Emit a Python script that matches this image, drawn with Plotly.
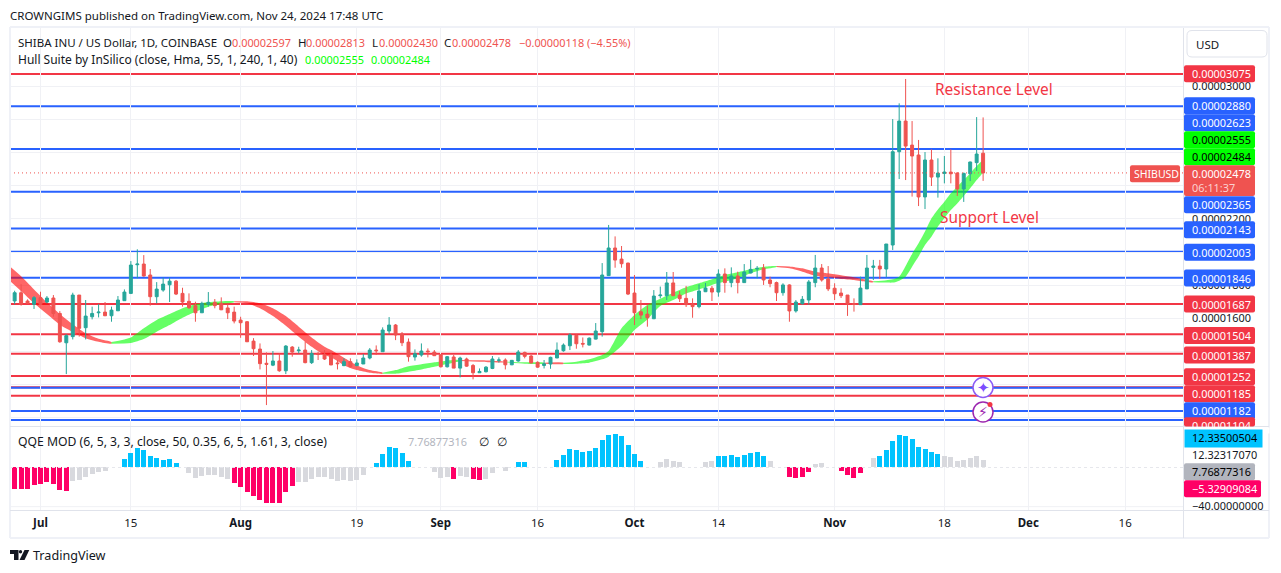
import pandas as pd
import plotly.graph_objects as go

W, H = 1281, 573
L, R, T, B = 10, 1183, 28, 510
MAIN_BOTTOM = 426
UNIT = 1e-8

# OHLC, in units of 0.00000001, from 2024-06-27 daily
candle_open = [1705, 1755, 1705, 1685, 1725, 1699, 1723, 1630, 1453, 1490, 1741, 1544, 1610, 1634, 1638, 1616, 1646, 1707, 1751, 1924,
               1928, 1862, 1731, 1771, 1803, 1825, 1751, 1703, 1677, 1634, 1685, 1697, 1691, 1663, 1638, 1590, 1580, 1463, 1415, 1329,
               1318, 1343, 1284, 1427, 1405, 1409, 1333, 1389, 1383, 1379, 1331, 1315, 1339, 1315, 1325, 1361, 1409, 1399, 1524, 1560,
               1506, 1457, 1367, 1379, 1403, 1397, 1381, 1308, 1367, 1300, 1355, 1316, 1272, 1278, 1298, 1347, 1349, 1320, 1343, 1395,
               1373, 1335, 1316, 1325, 1361, 1405, 1435, 1498, 1449, 1439, 1475, 1520, 1858, 2025, 1958, 1934, 1753, 1640, 1626, 1598,
               1737, 1737, 1814, 1741, 1721, 1687, 1671, 1761, 1782, 1759, 1868, 1816, 1856, 1816, 1874, 1898, 1904, 1832, 1816, 1755,
               1802, 1645, 1689, 1711, 1816, 1904, 1838, 1782, 1753, 1741, 1689, 1683, 1778, 1908, 1916, 1898, 2043, 2606, 2791, 2646,
               2586, 2333, 2556, 2453, 2475, 2483, 2477, 2381, 2473, 2540, 2597]
candle_high = [1767, 1807, 1715, 1735, 1761, 1735, 1741, 1644, 1504, 1755, 1741, 1711, 1671, 1687, 1699, 1671, 1735, 1775, 1946, 2017,
               1982, 1898, 1819, 1846, 1846, 1832, 1785, 1751, 1701, 1701, 1759, 1717, 1727, 1685, 1671, 1610, 1584, 1481, 1449, 1395,
               1403, 1389, 1439, 1433, 1429, 1459, 1409, 1399, 1409, 1399, 1349, 1359, 1359, 1353, 1385, 1421, 1437, 1546, 1608, 1566,
               1518, 1479, 1413, 1449, 1419, 1409, 1385, 1373, 1379, 1369, 1363, 1325, 1298, 1312, 1373, 1365, 1359, 1349, 1409, 1399,
               1379, 1341, 1349, 1369, 1455, 1449, 1510, 1504, 1485, 1485, 1572, 1934, 2164, 2095, 2037, 1936, 1862, 1711, 1677, 1771,
               1792, 1880, 1880, 1765, 1796, 1721, 1806, 1814, 1796, 1896, 1902, 1908, 1882, 1928, 1953, 1916, 1928, 1852, 1822, 1812,
               1806, 1711, 1735, 1832, 1983, 1928, 1916, 1812, 1782, 1741, 1721, 1852, 1983, 1953, 1953, 2049, 2803, 2898, 3045, 2791,
               2677, 2604, 2620, 2566, 2580, 2620, 2483, 2480, 2546, 2815, 2813]
candle_low = [1685, 1677, 1691, 1657, 1681, 1691, 1610, 1453, 1264, 1473, 1490, 1473, 1594, 1606, 1614, 1580, 1646, 1707, 1747, 1842,
              1852, 1677, 1691, 1761, 1699, 1741, 1671, 1657, 1580, 1634, 1671, 1661, 1650, 1596, 1570, 1483, 1459, 1373, 1292, 1077,
              1312, 1278, 1264, 1369, 1389, 1329, 1325, 1349, 1349, 1319, 1292, 1312, 1304, 1312, 1325, 1353, 1379, 1399, 1504, 1469,
              1433, 1339, 1345, 1369, 1365, 1373, 1304, 1304, 1300, 1244, 1308, 1232, 1272, 1274, 1294, 1333, 1292, 1318, 1339, 1359,
              1329, 1302, 1298, 1296, 1361, 1399, 1409, 1417, 1425, 1437, 1473, 1490, 1856, 1906, 1906, 1741, 1560, 1596, 1550, 1596,
              1721, 1711, 1735, 1699, 1669, 1604, 1661, 1759, 1705, 1731, 1755, 1788, 1751, 1816, 1872, 1842, 1802, 1788, 1705, 1737,
              1580, 1635, 1683, 1683, 1788, 1822, 1765, 1711, 1723, 1615, 1641, 1683, 1778, 1832, 1838, 1848, 2013, 2441, 2435, 2335,
              2278, 2260, 2399, 2329, 2415, 2415, 2339, 2303, 2429, 2490, 2430]
candle_close = [1755, 1685, 1691, 1725, 1685, 1723, 1630, 1459, 1496, 1741, 1540, 1614, 1630, 1638, 1616, 1650, 1711, 1759, 1922, 1928,
                1856, 1731, 1777, 1807, 1825, 1747, 1699, 1665, 1634, 1691, 1697, 1677, 1652, 1634, 1584, 1574, 1459, 1417, 1327, 1323,
                1343, 1284, 1433, 1397, 1409, 1333, 1389, 1383, 1355, 1319, 1327, 1339, 1308, 1331, 1361, 1409, 1405, 1530, 1560, 1500,
                1453, 1369, 1387, 1403, 1399, 1375, 1308, 1369, 1300, 1361, 1312, 1272, 1280, 1306, 1355, 1349, 1320, 1347, 1397, 1371,
                1331, 1306, 1326, 1365, 1409, 1439, 1500, 1447, 1445, 1481, 1524, 1862, 2025, 1952, 1930, 1747, 1634, 1620, 1604, 1735,
                1741, 1814, 1737, 1719, 1683, 1671, 1765, 1784, 1759, 1868, 1816, 1856, 1816, 1880, 1896, 1902, 1832, 1810, 1755, 1802,
                1645, 1699, 1715, 1820, 1904, 1832, 1778, 1749, 1737, 1687, 1685, 1783, 1904, 1916, 1898, 2049, 2606, 2791, 2640, 2580,
                2333, 2556, 2453, 2477, 2483, 2473, 2381, 2475, 2544, 2592, 2478]

# Hull band edges, day offsets from 2024-07-01
hull_days = [-5, -3, -1, 1, 3, 5, 7, 9, 11, 14, 16, 18, 20, 22, 24, 26, 28, 30, 32, 34, 36, 38, 40, 42, 44, 45, 47, 49, 51, 53,
             55, 57, 59, 61, 63, 65, 68, 70, 72, 75, 78, 81, 83, 85, 87, 88, 90, 92, 94, 96, 98, 100, 102, 104, 106, 108, 110, 112, 114,
             116, 118, 120, 122, 124, 126, 128, 129, 131, 132, 133, 134, 135, 136, 137, 138, 139, 140, 141, 142, 143, 144, 145, 146]
hull_upper = [1922, 1854, 1775, 1697, 1626, 1564, 1510, 1477, 1457, 1485, 1540, 1590, 1626, 1661, 1685, 1697, 1703, 1703,
              1703, 1691, 1661, 1614, 1550, 1485, 1429, 1409, 1363, 1318, 1288, 1272, 1288, 1312, 1324, 1335, 1345, 1349,
              1347, 1345, 1339, 1335, 1333, 1333, 1339, 1353, 1379, 1403, 1540, 1620, 1681, 1719, 1755, 1788, 1812, 1836, 1862, 1878, 1896, 1912, 1916,
              1914, 1902, 1882, 1872, 1860, 1848, 1832, 1824, 1830, 1836, 1852, 1916, 1989, 2053, 2124, 2204, 2258, 2304, 2355, 2395, 2435, 2476, 2520, 2555]
hull_lower = [1836, 1765, 1691, 1626, 1562, 1518, 1481, 1459, 1447, 1451, 1475, 1520, 1560, 1604, 1640, 1671, 1687, 1697,
              1691, 1661, 1614, 1556, 1490, 1429, 1379, 1365, 1318, 1288, 1272, 1266, 1266, 1278, 1292, 1308, 1325, 1343,
              1339, 1335, 1335, 1327, 1327, 1325, 1327, 1333, 1353, 1369, 1433, 1530, 1594, 1675, 1711, 1751, 1775, 1802, 1822, 1842, 1872, 1896, 1910,
              1902, 1882, 1858, 1850, 1838, 1832, 1820, 1818, 1816, 1816, 1828, 1852, 1912, 1973, 2043, 2093, 2154, 2204, 2254, 2294, 2339, 2385, 2435, 2484]
hull_flips = [-5, 11, 30, 53, 65, 72, 78, 81, 114, 129, 146]

# QQE histogram from 2024-06-26
qqe_values = [-26, -21.8, -21.8, -21.8, -18, -16.7, -15, -16.7, -23, -24,
              -13.3, -13, -9.9, -6.8, -5, -3.7, 0, 0,
              8.2, 15, 19.7, 17.7, 11.6, 9.2, 7.8, 8.8, 4.8,
              0, -5.4, -10.9, -8.5, -7.8, -7.8, -9.9, -11.9,
              -16, -19.7, -25.2, -29.3, -33, -36.4, -36.4, -36.4, -25.2, -19,
              -15, -14.6, -12.2, -9.9, -9.9, -11.9, -13.3, -12.6, -13.9, -12.9, -7.8, 0,
              4.4, 13.6, 20.7, 19.7, 14.6, 6.5,
              0, 0, 0, -4.4, -10.5, -10.2,
              -11.9, -8.8, -9.5, -11.6, -12.9,
              -11.9, -5.4, 0, -3.7, 0,
              5.4, 5.4, 0, 0, 0, 0,
              7.5, 12.6, 18.7, 17.7, 15.6, 16.7, 19.7, 27.9, 33, 34, 32, 22.8, 13.6, 6.5,
              0, 0, 5.4, 8.5, 6.5, 5.4, 0, 0, 0, 5.4, 6.5,
              11.6, 11.6, 12.6, 10.5, 12.6, 14.6, 15.6, 11.6,
              6.5, 0, 0,
              -9.9, -10.9, -9.9, -4.8,
              3.4, 4.4, 0, 0,
              -3.7, -7.8, -10.9, -5.8,
              0, 9.5,
              11.6, 17.7, 26.9, 33, 32, 28.9, 20.7, 18.7, 15.6, 13.6,
              11.6, 10.5, 6.5, 7.5, 9.5, 11.6, 7.77]
qqe_states = ("R" * 10 + "G" * 8 + "B" * 9 + "G" * 8 + "R" * 10 + "G" * 12 + "B" * 6 + "G" * 6 + "R" + "GG" + "RR" + "G" * 5
              + "BB" + "G" * 4 + "B" * 14 + "G" * 11 + "B" * 8 + "G" * 3 + "R" * 4 + "G" * 4 + "R" * 4 + "GG" + "B" * 10 + "G" * 7)

red_levels = [3075, 1687, 1504, 1387, 1252, 1185, 1133]
blue_levels = [2880, 2623, 2365, 2143, 2003, 1846, 1182, 1041, 987]
price_ticks = [3000, 2800, 2600, 2400, 2200, 2000, 1800, 1600, 1400, 1200, 1000]
# ticks the coloured price tags hide completely get no label
price_tick_names = ["0.00003000", "", "", "", "0.00002200", "", "0.00001800", "0.00001600", "", "", ""]

tick_dates = ["2024-07-01", "2024-07-15", "2024-08-01", "2024-08-19", "2024-09-01", "2024-09-16",
              "2024-10-01", "2024-10-14", "2024-11-01", "2024-11-18", "2024-12-01", "2024-12-16"]
tick_names = ["<b>Jul</b>", "15", "<b>Aug</b>", "19", "<b>Sep</b>", "16", "<b>Oct</b>", "14", "<b>Nov</b>", "18", "<b>Dec</b>", "16"]

RED = "#f23645"
BLUE = "#2962ff"
UP = "#26a69a"
DOWN = "#ef5350"
GRID = "#f0f1f5"
AXIS = "#e0e3eb"
INK = "#131722"
FONT = "Noto Sans"
NUM = 10.9


def px(x):
    return (x - L) / (R - L)


def py(y):
    return 1 - (y - T) / (B - T)


def rbox(x0, y0, x1, y1, fill, r=2):
    a, b, c, d = px(x0), py(y0), px(x1), py(y1)
    rx, ry = r / (R - L), r / (B - T)
    path = (f"M{a + rx},{b} L{c - rx},{b} Q{c},{b} {c},{b - ry} L{c},{d + ry} Q{c},{d} {c - rx},{d} "
            f"L{a + rx},{d} Q{a},{d} {a},{d + ry} L{a},{b - ry} Q{a},{b} {a + rx},{b} Z")
    return dict(type="path", path=path, xref="paper", yref="paper", fillcolor=fill, line_width=0, layer="above")


def poly(points, fill):
    path = "M" + " L".join(f"{px(x)},{py(y)}" for x, y in points) + " Z"
    return dict(type="path", path=path, xref="paper", yref="paper", fillcolor=fill, line_width=0, layer="above")


def text(x, y, s, color=INK, size=11.5, anchor="left", family=FONT):
    return dict(x=px(x), y=py(y), xref="paper", yref="paper", text=s, showarrow=False, xanchor=anchor, yanchor="middle",
                font=dict(family=family, size=size, color=color), borderpad=0, borderwidth=0)


def patch(x, y, w, h, fill):
    # an empty annotation used as a filled rectangle above earlier annotations
    return dict(x=px(x), y=py(y), xref="paper", yref="paper", text="", showarrow=False, xanchor="left", yanchor="top",
                width=w, height=h, bgcolor=fill, borderpad=0)


dates = pd.date_range("2024-06-27", periods=len(candle_open))
fig = go.Figure()

# hull band, one polygon per trend run
base = pd.Timestamp("2024-07-01")
for i in range(len(hull_flips) - 1):
    idx = [k for k, d in enumerate(hull_days) if hull_flips[i] <= d <= hull_flips[i + 1]]
    xs = [base + pd.Timedelta(days=hull_days[k]) for k in idx]
    up = [hull_upper[k] * UNIT for k in idx]
    lo = [hull_lower[k] * UNIT for k in idx]
    color = "rgba(255,0,0,0.6)" if i in (0, 2, 4, 6, 8) else "rgba(0,255,0,0.6)"
    fig.add_trace(go.Scatter(x=xs + xs[::-1], y=up + lo[::-1], fill="toself", fillcolor=color, mode="none",
                             line=dict(shape="spline", smoothing=0.6),
                             hoverinfo="skip", showlegend=False, xaxis="x", yaxis="y"))

fig.add_trace(go.Candlestick(
    x=dates,
    open=[v * UNIT for v in candle_open],
    high=[v * UNIT for v in candle_high],
    low=[v * UNIT for v in candle_low],
    close=[v * UNIT for v in candle_close],
    increasing=dict(line=dict(color=UP, width=1), fillcolor=UP),
    decreasing=dict(line=dict(color=DOWN, width=1), fillcolor=DOWN),
    whiskerwidth=0, showlegend=False, hoverinfo="skip", xaxis="x", yaxis="y2",
))

qqe_dates = pd.date_range("2024-06-26", periods=len(qqe_values))
state_colors = {"R": "#ff0066", "G": "#d8d9de", "B": "#00c3ff"}
fig.add_trace(go.Bar(x=qqe_dates, y=qqe_values, marker=dict(color=[state_colors[s] for s in qqe_states], line_width=0),
                     width=5 / 6.456 * 86400000, showlegend=False, hoverinfo="skip", xaxis="x2", yaxis="y3"))

shapes = []
for level in red_levels:
    shapes.append(dict(type="line", xref="x domain", yref="y", x0=0, x1=1, y0=level * UNIT, y1=level * UNIT,
                       line=dict(color=RED, width=2), layer="below"))
for level in blue_levels:
    shapes.append(dict(type="line", xref="x domain", yref="y", x0=0, x1=1, y0=level * UNIT, y1=level * UNIT,
                       line=dict(color=BLUE, width=2), layer="below"))
shapes.append(dict(type="line", xref="x domain", yref="y", x0=0, x1=1, y0=candle_close[-1] * UNIT, y1=candle_close[-1] * UNIT,
                   line=dict(color=DOWN, width=1, dash="1px,3px"), layer="above"))
shapes.append(dict(type="line", xref="x2 domain", yref="y3", x0=0, x1=1, y0=0, y1=0,
                   line=dict(color="#e6e7ec", width=1, dash="dot"), layer="above"))
shapes.append(dict(type="line", xref="x2 domain", yref="y3", x0=0, x1=1, y0=-40, y1=-40,
                   line=dict(color=GRID, width=1), layer="below"))

# chart frame and pane dividers
frame = "#eff1f7"
for x0, y0, x1, y1, col, w in [(10, 27, 1269, 27, frame, 2), (10, 27, 10, 538, frame, 2), (1269, 27, 1269, 538, frame, 2),
                               (10, 538, 1269, 538, frame, 2), (10, 426.5, 1269, 426.5, AXIS, 1), (10, 510.5, 1269, 510.5, AXIS, 1),
                               (1183.5, 28, 1183.5, 538, AXIS, 1)]:
    shapes.append(dict(type="line", xref="paper", yref="paper", x0=px(x0), x1=px(x1), y0=py(y0), y1=py(y1),
                       line=dict(color=col, width=w), layer="above"))

# USD button
a, b, c, d = px(1187), py(30.5), px(1267), py(57)
rx, ry = 5 / (R - L), 5 / (B - T)
shapes.append(dict(type="path", xref="paper", yref="paper", layer="above", line=dict(color=AXIS, width=1), fillcolor="white",
                   path=f"M{a + rx},{b} L{c - rx},{b} Q{c},{b} {c},{b - ry} L{c},{d + ry} Q{c},{d} {c - rx},{d} "
                        f"L{a + rx},{d} Q{a},{d} {a},{d + ry} L{a},{b - ry} Q{a},{b} {a + rx},{b} Z"))

# price labels: (centre y, text, box colour, text colour)
price_labels = [
    (73.7, "0.00003075", RED, "white"), (105.7, "0.00002880", BLUE, "white"), (122.7, "0.00002623", BLUE, "white"),
    (139.7, "0.00002555", "#00ff00", "black"), (156.7, "0.00002484", "#00ff00", "black"),
    (173.7, "0.00002478", DOWN, "white"), (204.7, "0.00002365", BLUE, "white"), (229.7, "0.00002143", BLUE, "white"),
    (252.3, "0.00002003", BLUE, "white"), (278, "0.00001846", BLUE, "white"), (304, "0.00001687", RED, "white"),
    (335.5, "0.00001504", RED, "white"), (355, "0.00001387", RED, "white"), (376.7, "0.00001252", RED, "white"),
    (393.7, "0.00001185", RED, "white"), (410.7, "0.00001182", BLUE, "white"),
]
annotations = []
for y, label, fill, ink in price_labels:
    shapes.append(rbox(1184, y - 8.5, 1255, y + 8.5, fill))
    annotations.append(text(1192, y, label, ink, NUM))
shapes.append(rbox(1184, 173.7, 1255, 196, DOWN))
annotations.append(text(1192, 187.7, "06:11:37", "#fbd0cf", NUM))
shapes.append(rbox(1184, 417.2, 1255, 426.5, RED))
annotations.append(text(1192, 425.7, "0.00001104", "white", NUM))
annotations.append(patch(1184, 426.7, 84, 5, "white"))

# QQE labels
annotations.append(patch(1184, 429.2, 77, 17, "#00c3ff"))
annotations.append(text(1192, 437.7, "12.33500504", "black", NUM))
shapes.append(rbox(1184, 463.2, 1255, 480.2, "#b2b5be"))
annotations.append(text(1192, 471.7, "7.76877316", "black", NUM))
shapes.append(rbox(1184, 480.2, 1261, 497.2, "#ff0066"))
annotations.append(text(1192, 488.7, "\u22125.32909084", "white", NUM))

# legend rows and labels
annotations += [
    text(10, 15, "CROWNGIMS published on TradingView.com, Nov 24, 2024 17:48 UTC"),
    text(18, 42, "SHIBA INU / US Dollar, 1D, COINBASE"),
    text(223, 42, "O"), text(232, 42, "0.00002597", DOWN, NUM),
    text(298, 42, "H"), text(306, 42, "0.00002813", DOWN, NUM),
    text(372, 42, "L"), text(379, 42, "0.00002430", DOWN, NUM),
    text(444, 42, "C"), text(452, 42, "0.00002478", DOWN, NUM),
    text(519, 42, "\u22120.00000118 (\u22124.55%)", DOWN, NUM),
    text(18, 59, "Hull Suite by InSilico (close, Hma, 55, 1, 240, 1, 40)", INK, 12),
    text(305, 59, "0.00002555", "#00ff00", NUM), text(371, 59, "0.00002484", "#00ff00", NUM),
    text(18, 441, "QQE MOD (6, 5, 3, 3, close, 50, 0.35, 6, 5, 1.61, 3, close)", INK, 12.2),
    text(408, 441, "7.76877316", "#b2b5be", NUM), text(479, 441, "\u2205"), text(497, 441, "\u2205"),
    text(935, 89, "Resistance Level", RED, 15.4),
    text(940, 218, "Support Level", RED, 15.4),
    text(1196, 44, "USD", INK, 11.5),
    text(33, 555, "TradingView", INK, 12.6),
]

# SHIBUSD tag
shapes.append(rbox(1130, 165.2, 1180, 182.2, DOWN))
annotations.append(text(1134, 173.7, "SHIBUSD", "white", 10.5))

# round badges beside the price scale
for cy, col in [(387.5, "#8b5cf6"), (412, "#9c27b0")]:
    shapes.append(dict(type="circle", xref="paper", yref="paper", x0=px(973), x1=px(993), y0=py(cy - 10), y1=py(cy + 10),
                       fillcolor="white", line=dict(color=col, width=1.5), layer="above"))
shapes.append(dict(type="circle", xref="paper", yref="paper", x0=px(987.5), x1=px(992.5), y0=py(402), y1=py(407),
                   fillcolor=RED, line_width=0, layer="above"))
annotations.append(text(983, 387.5, "\u2726", "#7c4dff", 15, "center", "DejaVu Sans"))
annotations.append(text(983, 412, "\u26a1", "#9c27b0", 14, "center", "DejaVu Sans"))

# TradingView mark
shapes.append(poly([(10, 550), (18.5, 550), (18.5, 560), (14, 560), (14, 554), (10, 554)], "#131722"))
shapes.append(dict(type="circle", xref="paper", yref="paper", x0=px(18.8), x1=px(22.2), y0=py(550), y1=py(553.4),
                   fillcolor="#131722", line_width=0, layer="above"))
shapes.append(poly([(24.5, 550), (29.3, 550), (24.5, 560), (19.5, 560)], "#131722"))

price_range = [3521.6 - 6.035 * MAIN_BOTTOM, 3521.6 - 6.035 * T]
price_range = [v * UNIT for v in price_range]
split = (B - MAIN_BOTTOM - 1) / (B - T)
fig.update_layout(
    width=W, height=H, autosize=False,
    margin=dict(l=L, r=W - R, t=T, b=H - B, pad=0),
    paper_bgcolor="white", plot_bgcolor="white",
    font=dict(family=FONT, size=11.5, color=INK),
    showlegend=False, bargap=0, boxgap=0.35,
    xaxis=dict(domain=[0, 1], anchor="y", type="date", range=["2024-06-26 06:43", "2024-12-24 23:02"], tickvals=tick_dates,
               showticklabels=False, showgrid=True, gridcolor=GRID, gridwidth=1, ticks="", zeroline=False,
               rangeslider=dict(visible=False), showline=False),
    xaxis2=dict(domain=[0, 1], anchor="y3", type="date", matches="x", tickvals=tick_dates, ticktext=tick_names,
                showgrid=True, gridcolor=GRID, gridwidth=1, ticks="", zeroline=False, showline=False,
                tickfont=dict(family=FONT, size=11.5, color=INK), ticklabelstandoff=4),
    yaxis=dict(domain=[(B - MAIN_BOTTOM) / (B - T), 1], anchor="x", side="right", range=price_range,
               tickvals=[v * UNIT for v in price_ticks], ticktext=price_tick_names,
               showgrid=True, gridcolor=GRID, gridwidth=1, ticks="", zeroline=False, showline=False,
               tickfont=dict(family=FONT, size=NUM, color=INK), ticklabelstandoff=8, automargin=False),
    yaxis2=dict(overlaying="y", side="right", range=price_range, showticklabels=False, showgrid=False, zeroline=False,
                ticks="", anchor="x"),
    yaxis3=dict(domain=[0, split], anchor="x2", side="right", range=[-43.4, 41.3], tickvals=[12.3231707, -40], tickformat=".8f",
                showgrid=False, ticks="", zeroline=False, showline=False,
                tickfont=dict(family=FONT, size=NUM, color=INK), ticklabelstandoff=8, automargin=False),
    shapes=shapes,
    annotations=annotations,
)

# the page's default body margin would push the fixed-size chart 8px in
fig.write_html("out.html", config=dict(displayModeBar=False), post_script="document.body.style.margin='0';")
